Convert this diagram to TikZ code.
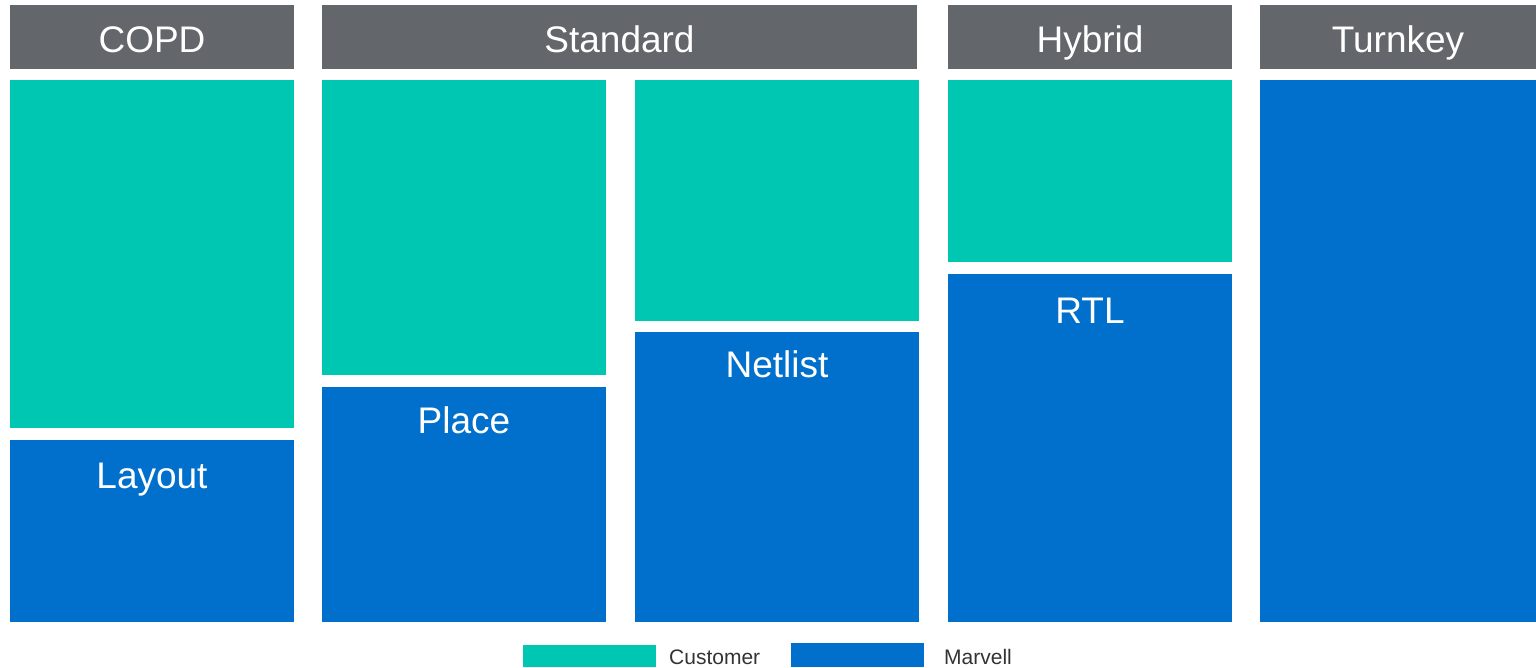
\documentclass[tikz,border=0pt]{standalone}
\usepackage{fontspec}
\setmainfont{Liberation Sans}
\usepackage{tikz}

\definecolor{headgray}{RGB}{99,102,106}
\definecolor{custteal}{RGB}{0,199,177}
\definecolor{marvblue}{RGB}{0,112,204}
\definecolor{keytext}{RGB}{51,51,51}

\begin{document}
\begin{tikzpicture}[
		x=1pt, y=-1pt,
		block/.style={anchor=north west, inner sep=0pt, outer sep=0pt},
		headbox/.style={block, fill=headgray, minimum height=64pt},
		custbox/.style={block, fill=custteal},
		marvbox/.style={block, fill=marvblue},
		bigtext/.style={anchor=base, inner sep=0pt, text=white,
			font=\fontsize{37}{41}\selectfont},
		keylabel/.style={anchor=base west, inner sep=0pt, text=keytext,
			font=\fontsize{21}{24}\selectfont}
	]
		\useasboundingbox (0,0) rectangle (1536,667);

		% headers
		\node[headbox, minimum width=284pt] (copdhead) at (10,5) {};
		\node[headbox, minimum width=595pt] (stdhead) at (322,5) {};
		\node[headbox, minimum width=284pt] (hybhead) at (948,5) {};
		\node[headbox, minimum width=276pt] (turnhead) at (1260,5) {};
		\node[bigtext] (copdtitle) at ([yshift=-47pt]copdhead.north) {COPD};
		\node[bigtext] (stdtitle) at ([yshift=-47pt]stdhead.north) {Standard};
		\node[bigtext] (hybtitle) at ([yshift=-47pt]hybhead.north) {Hybrid};
		\node[bigtext] (turntitle) at ([yshift=-47pt]turnhead.north) {Turnkey};

		% columns
		\node[custbox, minimum width=284pt, minimum height=348pt] (copdcust) at (10,80) {};
		\node[marvbox, minimum width=284pt, minimum height=182pt] (copdmarv) at (10,440) {};
		\node[custbox, minimum width=284pt, minimum height=295pt] (placecust) at (322,80) {};
		\node[marvbox, minimum width=284pt, minimum height=235pt] (placemarv) at (322,387) {};
		\node[custbox, minimum width=284pt, minimum height=241pt] (netcust) at (635,80) {};
		\node[marvbox, minimum width=284pt, minimum height=290pt] (netmarv) at (635,332) {};
		\node[custbox, minimum width=284pt, minimum height=182pt] (hybcust) at (948,80) {};
		\node[marvbox, minimum width=284pt, minimum height=348pt] (hybmarv) at (948,274) {};
		\node[marvbox, minimum width=276pt, minimum height=542pt] (turnmarv) at (1260,80) {};

		\node[bigtext] (layoutlabel) at ([yshift=-48pt]copdmarv.north) {Layout};
		\node[bigtext] (placelabel) at ([yshift=-46pt]placemarv.north) {Place};
		\node[bigtext] (netlabel) at ([yshift=-45pt]netmarv.north) {Netlist};
		\node[bigtext] (rtllabel) at ([yshift=-49pt]hybmarv.north) {RTL};

		% legend
		\node[custbox, minimum width=133pt, minimum height=22pt] (custkey) at (523,645) {};
		\node[keylabel] (custtext) at (669,664) {Customer};
		\node[marvbox, minimum width=133pt, minimum height=24pt] (marvkey) at (791,643) {};
		\node[keylabel] (marvtext) at (944,664) {Marvell};
	\end{tikzpicture}
\end{document}
